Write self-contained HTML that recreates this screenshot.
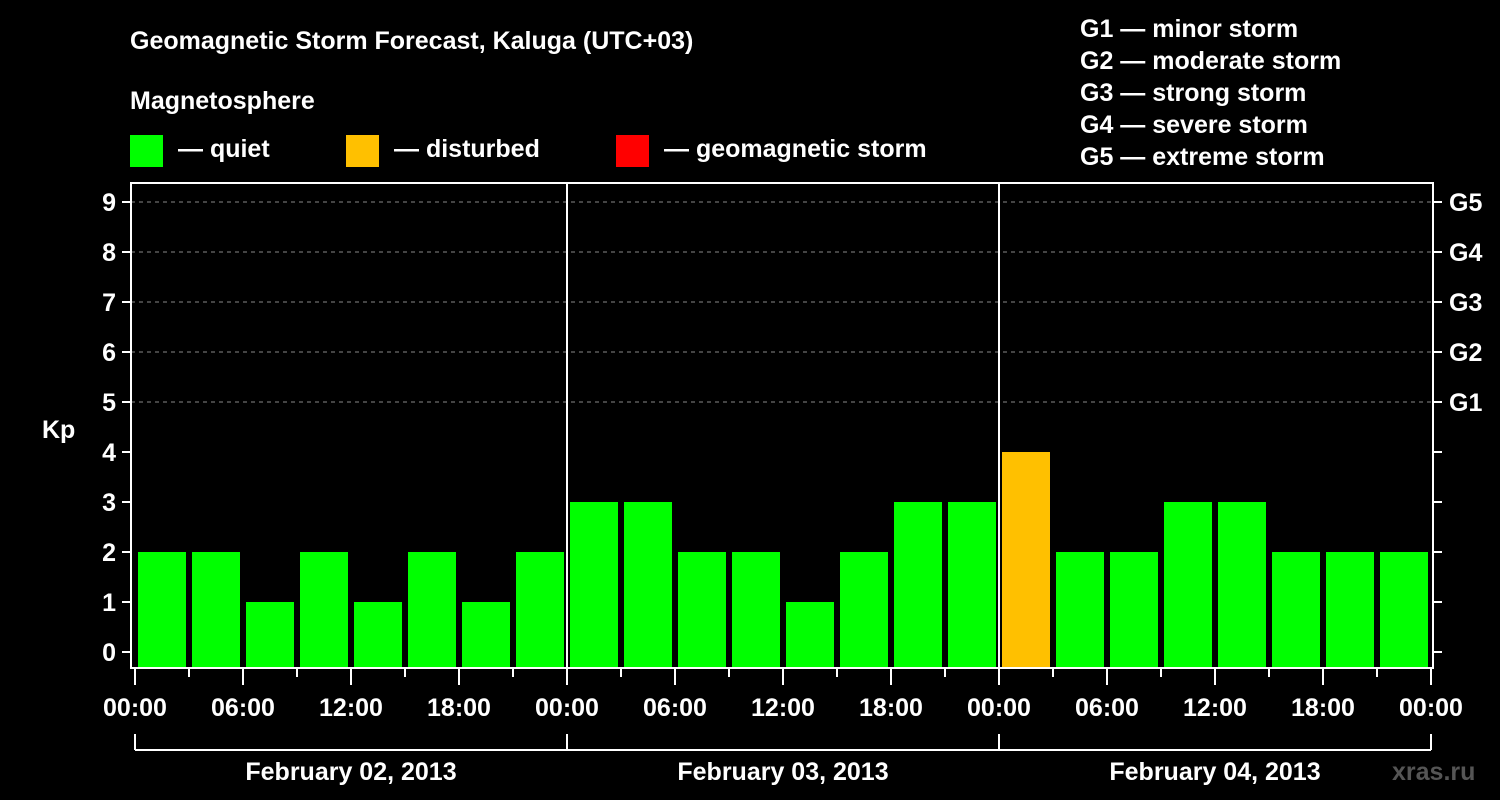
<!DOCTYPE html>
<html><head><meta charset="utf-8"><style>
html,body{margin:0;padding:0;background:#000;}
svg{display:block;font-family:"Liberation Sans",Arial,sans-serif;font-weight:bold;}
</style></head><body>
<svg id="c" width="1500" height="800" viewBox="0 0 1500 800">
<rect width="1500" height="800" fill="#000"/>
<text x="130" y="49" fill="#fff" font-size="25">Geomagnetic Storm Forecast, Kaluga (UTC+03)</text>
<text x="130" y="109" fill="#fff" font-size="25">Magnetosphere</text>
<g><rect x="130" y="135" width="33" height="32" fill="#00ff00"/><text x="178" y="157" fill="#fff" font-size="25">— quiet</text></g>
<g><rect x="346" y="135" width="33" height="32" fill="#ffc000"/><text x="394" y="157" fill="#fff" font-size="25">— disturbed</text></g>
<g><rect x="616" y="135" width="33" height="32" fill="#ff0000"/><text x="664" y="157" fill="#fff" font-size="25">— geomagnetic storm</text></g>
<g fill="#fff" font-size="25">
<text x="1080" y="37">G1 — minor storm</text>
<text x="1080" y="69">G2 — moderate storm</text>
<text x="1080" y="101">G3 — strong storm</text>
<text x="1080" y="133">G4 — severe storm</text>
<text x="1080" y="165">G5 — extreme storm</text>
</g>
<text x="42" y="438" fill="#fff" font-size="25">Kp</text>
<text x="1392" y="780" fill="#555" font-size="25">xras.ru</text>
<g id="plot"></g>
</svg>
<script>
const kpValues = [2,2,1,2,1,2,1,2, 3,3,2,2,1,2,3,3, 4,2,2,3,3,2,2,2];
const yTicks = [0,1,2,3,4,5,6,7,8,9];
const gLabels = ["G1","G2","G3","G4","G5"];
const hourLabels = ["00:00","06:00","12:00","18:00","00:00","06:00","12:00","18:00","00:00","06:00","12:00","18:00","00:00"];
const dayLabels = ["February 02, 2013","February 03, 2013","February 04, 2013"];

const NS="http://www.w3.org/2000/svg";
const g=document.getElementById('plot');
const x0=135, slot=54, frameL=131, frameR=1433, frameT=183, frameB=668;
const y=v=>652-50*v;
const xs=i=>x0+i*slot;
function mk(tag,attrs,parent){const e=document.createElementNS(NS,tag);for(const k in attrs)e.setAttribute(k,attrs[k]);(parent||g).appendChild(e);return e;}
function color(v){return v>=5?'#ff0000':(v>=4?'#ffc000':'#00ff00');}

// grid
for(let v=5;v<=9;v++){
  const l=mk('line',{x1:frameL,x2:frameR,y1:y(v),y2:y(v),stroke:'#888','stroke-width':1,'stroke-dasharray':'4,4'});
  
  
}
// bars
kpValues.forEach((v,i)=>{
  const r=mk('rect',{x:xs(i)+3,y:y(v),width:48,height:frameB-y(v),fill:color(v)});
  
  
});
// frame
const f=mk('rect',{x:frameL,y:frameT,width:frameR-frameL,height:frameB-frameT,fill:'none',stroke:'#fff','stroke-width':2});


// day dividers
for(let d=1;d<dayLabels.length;d++){
  const l=mk('line',{x1:xs(d*8),x2:xs(d*8),y1:frameT,y2:frameB,stroke:'#fff','stroke-width':2});
  
  
}
// y ticks
yTicks.forEach(v=>{
  mk('line',{x1:122,x2:frameL,y1:y(v),y2:y(v),stroke:'#fff','stroke-width':2});
  mk('line',{x1:frameR,x2:1442,y1:y(v),y2:y(v),stroke:'#fff','stroke-width':2});
  const t=mk('text',{x:116,y:y(v)+9,fill:'#fff','font-size':25,'text-anchor':'end'});
  t.textContent=v;
  
  
});
gLabels.forEach((s,i)=>{
  const t=mk('text',{x:1449,y:y(5+i)+9,fill:'#fff','font-size':25});
  t.textContent=s;
  
  
});
// x ticks
for(let i=0;i<=kpValues.length;i++){
  const major=i%2===0;
  mk('line',{x1:xs(i),x2:xs(i),y1:frameB,y2:major?685:677,stroke:'#fff','stroke-width':2});
}
hourLabels.forEach((s,i)=>{
  const t=mk('text',{x:xs(i*2),y:716,fill:'#fff','font-size':25,'text-anchor':'middle'});
  t.textContent=s;
  
  
});
// day brackets
mk('line',{x1:xs(0),x2:xs(24),y1:750,y2:750,stroke:'#fff','stroke-width':2});
for(let d=0;d<=dayLabels.length;d++) mk('line',{x1:xs(d*8),x2:xs(d*8),y1:734,y2:750,stroke:'#fff','stroke-width':2});
dayLabels.forEach((s,d)=>{
  const t=mk('text',{x:xs(d*8+4),y:780,fill:'#fff','font-size':25,'text-anchor':'middle'});
  t.textContent=s;
  
  
});
</script>
</body></html>
